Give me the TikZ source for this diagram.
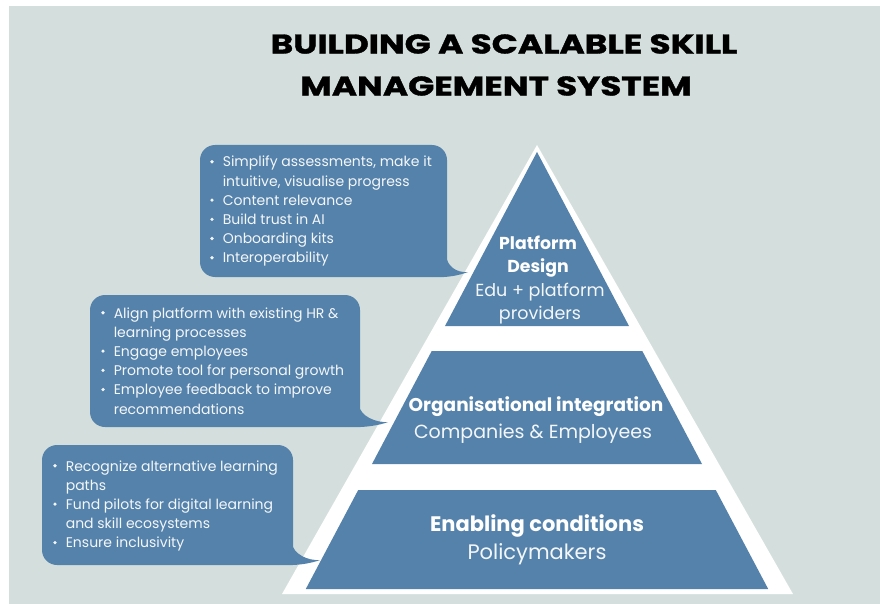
\documentclass[tikz,border=0pt]{standalone}
\usepackage{fontspec}
\setmainfont{Poppins}
\usepackage{array}
\definecolor{bgc}{HTML}{D4DFDD}
\definecolor{tierblue}{HTML}{5582AA}
\definecolor{txtw}{HTML}{F4F7FA}
\newcommand{\bl}{\raisebox{0.45ex}{\tikz\fill[txtw] (0,0) circle (1.8pt);}}
\begin{document}
\begin{tikzpicture}[x=1pt,y=-1pt,
  tier/.style={fill=tierblue},
  bubble/.style={fill=tierblue},
  bubtext/.style={anchor=base west,inner sep=0pt,text=txtw,font=\fontsize{14}{19.2}\selectfont},
  tiertitle/.style={inner sep=0pt,text=white,align=center},
  tiersub/.style={inner sep=0pt,text=txtw,align=center},
  titlestyle/.style={inner sep=0pt,text=black,font=\fontsize{27}{32}\selectfont\bfseries\addfontfeatures{FakeBold=1.2}}]
\useasboundingbox (0,0) rectangle (880,604);
\fill[white] (0,0) rectangle (880,604);
\fill[bgc] (9,6) rectangle (880,604);

% title
\node[titlestyle] (t1) at (504,44) {\scalebox{1.27}[1]{BUILDING A SCALABLE SKILL}};
\node[titlestyle] (t2) at (496,86) {\scalebox{1.27}[1]{MANAGEMENT SYSTEM}};

% pyramid outline
\fill[white] (537,145) -- (282,594) -- (793,594) -- cycle;
% tiers
\fill[tier] (537,152) -- (445,326) -- (629,326) -- cycle;
\fill[tier] (431.7,351) -- (642.3,351) -- (702,464) -- (372,464) -- cycle;
\fill[tier] (358.2,490) -- (715.8,490) -- (768.2,589) -- (305.8,589) -- cycle;

\node[tiertitle,font=\fontsize{17.3}{23}\selectfont\bfseries] (pdt) at (538,257) {Platform\\Design};
\node[tiersub,font=\fontsize{17.5}{23}\selectfont] (pds) at (540,304) {Edu + platform\\providers};
\node[tiertitle,font=\fontsize{18.5}{22}\selectfont\bfseries] (oit) at (536,407) {Organisational integration};
\node[tiersub,font=\fontsize{19}{22}\selectfont] (ois) at (533,434) {Companies \& Employees};
\node[tiertitle,font=\fontsize{21}{22}\selectfont\bfseries] (ect) at (537,526) {Enabling conditions};
\node[tiersub,font=\fontsize{21}{22}\selectfont] (ecs) at (537,554) {Policymakers};

% bubbles
\fill[bubble,rounded corners=15pt] (200,145) rectangle (447,277);
\fill[bubble] (446,255) .. controls (447,266) and (456,273) .. (468,272)
  .. controls (460,275) and (448,278) .. (432,277) -- cycle;
\fill[bubble,rounded corners=15pt] (90,295) rectangle (360,427);
\fill[bubble] (359,405) .. controls (360,416) and (376,423) .. (388,422)
  .. controls (380,425) and (366,428) .. (345,427) -- cycle;
\fill[bubble,rounded corners=15pt] (42,445) rectangle (293,565);
\fill[bubble] (292,543) .. controls (293,554) and (308,561) .. (320,560)
  .. controls (312,563) and (298,566) .. (278,565) -- cycle;

\node[bubtext] (b1) at (210,167) {\begin{tabular}[t]{@{}l@{\hspace{9pt}}l@{}}
\bl & Simplify assessments, make it\\
 & intuitive, visualise progress\\
\bl & Content relevance\\
\bl & Build trust in AI\\
\bl & Onboarding kits\\
\bl & Interoperability
\end{tabular}};
\node[bubtext] (b2) at (101,318) {\begin{tabular}[t]{@{}l@{\hspace{9pt}}l@{}}
\bl & Align platform with existing HR \&\\
 & learning processes\\
\bl & Engage employees\\
\bl & Promote tool for personal growth\\
\bl & Employee feedback to improve\\
 & recommendations
\end{tabular}};
\node[bubtext] (b3) at (53,471) {\begin{tabular}[t]{@{}l@{\hspace{9pt}}l@{}}
\bl & Recognize alternative learning\\
 & paths\\
\bl & Fund pilots for digital learning\\
 & and skill ecosystems\\
\bl & Ensure inclusivity
\end{tabular}};
\end{tikzpicture}
\end{document}
